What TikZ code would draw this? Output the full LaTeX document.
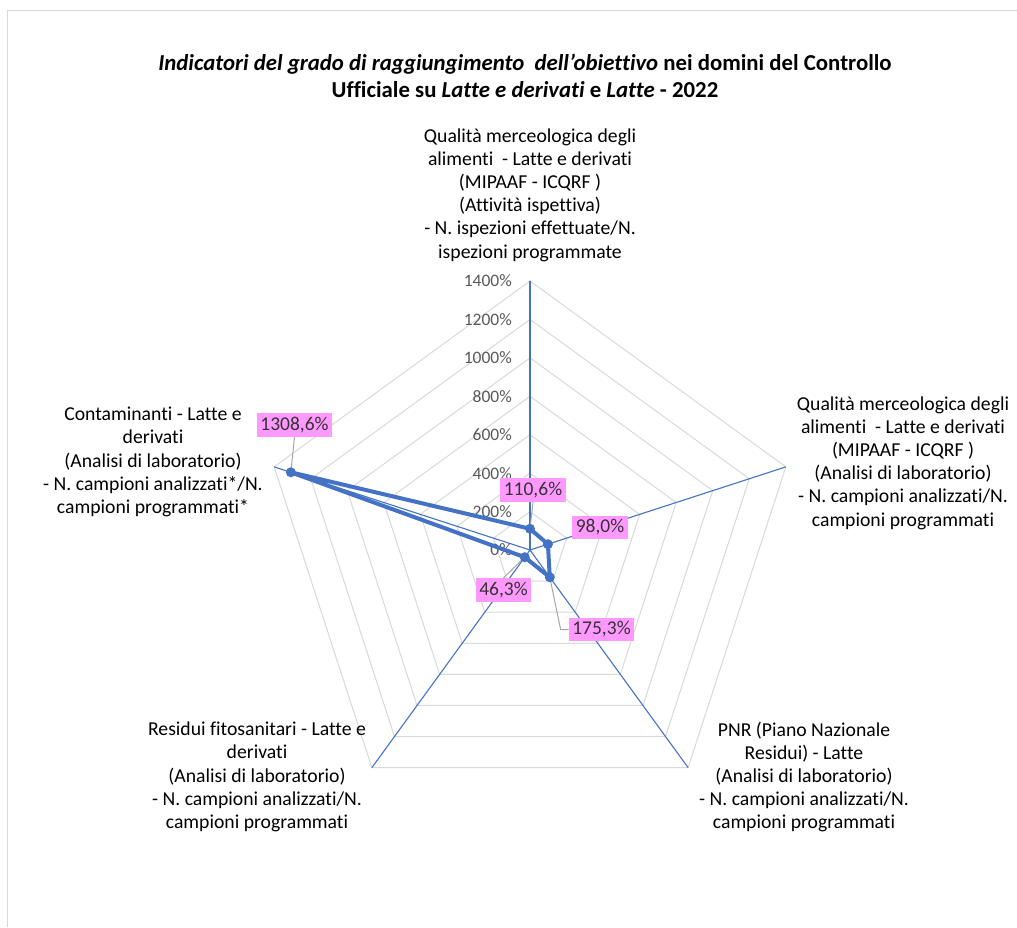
\documentclass[tikz,border=0pt]{standalone}
\usepackage{fontspec}
\setmainfont{Carlito}[Ligatures={NoCommon}]
\usetikzlibrary{calc}
\definecolor{xblue}{RGB}{68,114,196}
\definecolor{xgrid}{RGB}{217,217,217}
\definecolor{xpink}{RGB}{255,153,255}
\definecolor{xtick}{RGB}{89,89,89}
\definecolor{xlead}{RGB}{166,166,166}
\definecolor{xframe}{RGB}{217,217,217}
\tikzset{
  gridline/.style={draw=xgrid, line width=1pt},
  axisline/.style={draw=xblue, line width=1.1pt},
  dataline/.style={draw=xblue, line width=4pt, line join=round},
  marker/.style={fill=xblue},
  leader/.style={draw=xlead, line width=1pt},
  cat/.style={align=center, font=\fontsize{19.7}{23.2}\selectfont, text=black, inner sep=0pt},
  ticklbl/.style={anchor=east, font=\fontsize{17.5}{20}\selectfont, text=xtick, inner sep=0pt},
  datalbl/.style={fill=xpink, font=\fontsize{19.5}{20}\selectfont, text=black!80, inner xsep=3.5pt, inner ysep=4pt},
  titlelbl/.style={align=center, font=\bfseries\fontsize{22.8}{27}\selectfont, inner sep=0pt}
}
\begin{document}
\begin{tikzpicture}[x=1pt,y=-1pt]
\path[use as bounding box] (0,0) rectangle (1017,927);
% frame
\draw[xframe, line width=1.2pt] (7.5,927) -- (7.5,10.5) -- (1017,10.5);
% title
\node[titlelbl] (title) at (525,75.5) {{\itshape Indicatori del grado di raggiungimento\ \ dell\symbol{39}obiettivo} nei domini del Controllo\\Ufficiale su {\itshape Latte e derivati} e {\itshape Latte} - 2022};
% centre
\coordinate (O) at (530,550);
% grid
\foreach \k in {1,...,7}{
  \pgfmathsetmacro\r{\k*269/7}
  \draw[gridline] ($(O)+(90:\r pt)$) -- ($(O)+(18:\r pt)$) -- ($(O)+(-54:\r pt)$) -- ($(O)+(-126:\r pt)$) -- ($(O)+(162:\r pt)$) -- cycle;
}
% axis ends
\coordinate (A1) at ($(O)+(90:269pt)$);
\coordinate (A2) at ($(O)+(18:269pt)$);
\coordinate (A3) at ($(O)+(-54:269pt)$);
\coordinate (A4) at ($(O)+(-126:269pt)$);
\coordinate (A5) at ($(O)+(162:269pt)$);
\foreach \a in {A1,A2,A3,A4,A5}{\draw[axisline] (O) -- (\a);}
% tick labels
\foreach \k in {0,...,7}{
  \pgfmathtruncatemacro\v{\k*200}
  \node[ticklbl] (t\k) at (512,{550-\k*269/7}) {\v\%};
}
% data points
\coordinate (P1) at ($(O)+(90:21.25pt)$);
\coordinate (P2) at ($(O)+(18:18.83pt)$);
\coordinate (P3) at ($(O)+(-54:33.68pt)$);
\coordinate (P4) at ($(O)+(-126:8.90pt)$);
\coordinate (P5) at ($(O)+(162:251.44pt)$);
% data labels
\node[datalbl] (L1) at (533,490) {110,6\%};
\node[datalbl] (L2) at (600,527.5) {98,0\%};
\node[datalbl] (L3) at (601.5,629.5) {175,3\%};
\node[datalbl] (L4) at (503.5,590) {46,3\%};
\node[datalbl] (L5) at (294.5,425) {1308,6\%};
% leader lines
\draw[leader] (L1.south) -- (P1);
\draw[leader] (L3.west) -- ++(-8,0) -- (P3);
\draw[leader] (L4.north) -- (P4);
\draw[leader] (L5.south) -- (P5);
% data series
\draw[dataline] (P1) -- (P2) -- (P3) -- (P4) -- (P5) -- cycle;
\foreach \p in {P1,P2,P3,P4,P5}{\fill[marker] (\p) circle (5pt);}
% category labels
\node[cat] (C1) at (530,195) {Qualità merceologica degli\\alimenti\ \ - Latte e derivati\\(MIPAAF - ICQRF )\\(Attività ispettiva)\\- N. ispezioni effettuate/N.\\ispezioni programmate};
\node[cat] (C2) at (903,463) {Qualità merceologica degli\\alimenti\ \ - Latte e derivati\\(MIPAAF - ICQRF )\\(Analisi di laboratorio)\\- N. campioni analizzati/N.\\campioni programmati};
\node[cat] (C3) at (804,777) {PNR (Piano Nazionale\\Residui) - Latte\\(Analisi di laboratorio)\\- N. campioni analizzati/N.\\campioni programmati};
\node[cat] (C4) at (257,777) {Residui fitosanitari - Latte e\\derivati\\(Analisi di laboratorio)\\- N. campioni analizzati/N.\\campioni programmati};
\node[cat] (C5) at (153,462) {Contaminanti - Latte e\\derivati\\(Analisi di laboratorio)\\- N. campioni analizzati*/N.\\campioni programmati*};
\end{tikzpicture}
\end{document}
